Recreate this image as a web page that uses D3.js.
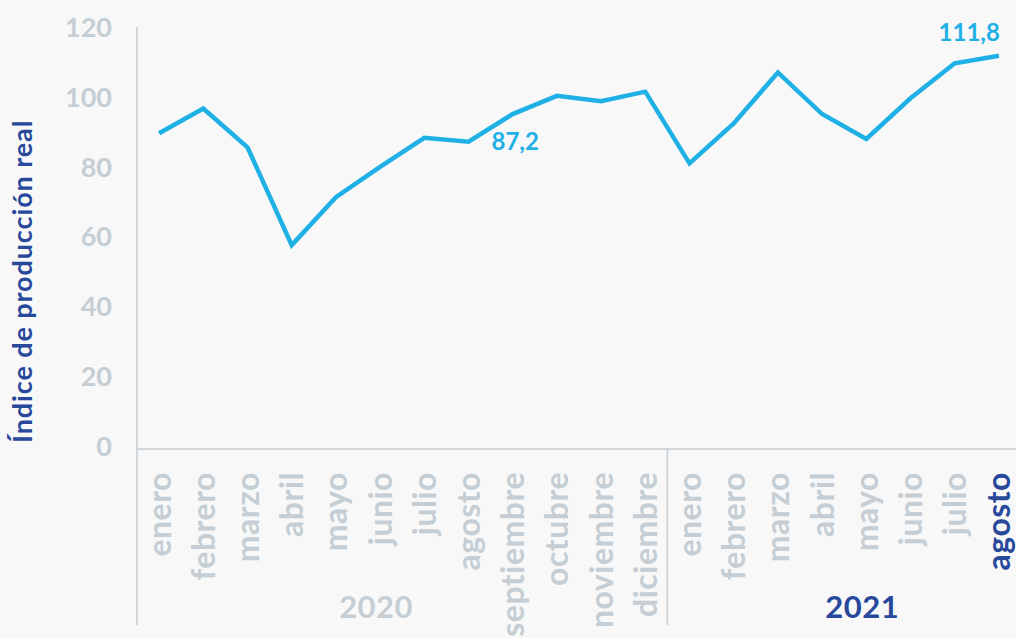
<!DOCTYPE html>
<html lang="es">
<head>
    <meta charset="UTF-8">
    <title>Índice de producción real</title>
    <script src="https://cdn.jsdelivr.net/npm/d3@7"></script>
    <style>
        body { margin: 0; background: #f8f8f8; }
        svg { display: block; background: #f8f8f8; font-family: Lato, "Open Sans", sans-serif; font-weight: 700; }
    </style>
</head>
<body>
    <div id="chart-space"></div>

    <script>
        // data
        var months = ["enero", "febrero", "marzo", "abril", "mayo", "junio", "julio", "agosto",
                      "septiembre", "octubre", "noviembre", "diciembre",
                      "enero", "febrero", "marzo", "abril", "mayo", "junio", "julio", "agosto"];
        var years = ["2020", "2021"];
        var values = [89.6, 96.7, 85.6, 57.6, 71.3, 80.0, 88.3, 87.2, 95.1, 100.3, 98.8, 101.5,
                      81.0, 92.4, 107.0, 95.1, 88.0, 99.6, 109.6, 111.8];
        var yTicks = [0, 20, 40, 60, 80, 100, 120];
        var callouts = [{ i: 7, text: "87,2" }, { i: 19, text: "111,8" }];

        var width = 1016;
        var height = 638;

        var grey = "#c4ced4";
        var lineBlue = "#1fb0e5";
        var darkBlue = "#28499b";

        var svg = d3.select("#chart-space")
            .append("svg")
            .attr("width", width)
            .attr("height", height);

        var xScale = d3.scaleBand()
            .domain(d3.range(months.length))
            .range([137, 1021]);

        var yScale = d3.scaleLinear()
            .domain([0, 120])
            .range([446.5, 27]);

        function cx(i) { return xScale(i) + xScale.bandwidth() / 2; }

        // axis lines
        svg.append("line")
            .attr("x1", 137).attr("x2", 137)
            .attr("y1", yScale(120)).attr("y2", 625)
            .attr("stroke", grey).attr("stroke-width", 1.5);

        svg.append("line")
            .attr("x1", 137).attr("x2", width)
            .attr("y1", yScale(0) + 2.5).attr("y2", yScale(0) + 2.5)
            .attr("stroke", grey).attr("stroke-width", 1.5);

        // year divider
        svg.append("line")
            .attr("x1", xScale(12)).attr("x2", xScale(12))
            .attr("y1", yScale(0) + 2.5).attr("y2", 625)
            .attr("stroke", grey).attr("stroke-width", 1.5);

        // y tick labels
        svg.selectAll(".ytick")
            .data(yTicks)
            .join("text")
            .attr("class", "ytick")
            .attr("x", 112)
            .attr("y", function(d) { return yScale(d); })
            .attr("dy", "0.36em")
            .attr("text-anchor", "end")
            .attr("fill", grey)
            .style("font-size", "27px")
            .text(function(d) { return d; });

        // y axis title
        svg.append("text")
            .attr("transform", "translate(22,443) rotate(-90)")
            .attr("dy", "0.36em")
            .attr("fill", darkBlue)
            .style("font-size", "27px")
            .style("letter-spacing", "0.9px")
            .text("Índice de producción real");

        // month labels
        svg.selectAll(".month")
            .data(months)
            .join("text")
            .attr("class", "month")
            .attr("transform", function(d, i) { return "translate(" + cx(i) + ",472) rotate(-90)"; })
            .attr("dy", "0.36em")
            .attr("text-anchor", "end")
            .attr("fill", function(d, i) { return i === months.length - 1 ? darkBlue : grey; })
            .style("font-size", "32px")
            .style("letter-spacing", "0.5px")
            .text(function(d) { return d; });

        // year labels
        svg.selectAll(".year")
            .data(years)
            .join("text")
            .attr("class", "year")
            .attr("x", function(d, i) { return cx(i === 0 ? 5 : 16) - 4; })
            .attr("y", 618)
            .attr("text-anchor", "middle")
            .attr("fill", function(d, i) { return i === 1 ? darkBlue : grey; })
            .style("font-size", "31px")
            .style("letter-spacing", "0.5px")
            .text(function(d) { return d; });

        // the line
        var line = d3.line()
            .x(function(d, i) { return cx(i); })
            .y(function(d) { return yScale(d); });

        svg.append("path")
            .datum(values)
            .attr("d", line)
            .attr("fill", "none")
            .attr("stroke", lineBlue)
            .attr("stroke-width", 4.5)
            .attr("stroke-linejoin", "miter");

        // value callouts
        svg.selectAll(".callout")
            .data(callouts)
            .join("text")
            .attr("class", "callout")
            .attr("x", function(d, i) { return i === 0 ? cx(d.i) + 23 : cx(d.i) + 1; })
            .attr("y", function(d, i) { return i === 0 ? yScale(values[d.i]) + 8 : yScale(values[d.i]) - 15; })
            .attr("text-anchor", function(d, i) { return i === 0 ? "start" : "end"; })
            .attr("fill", lineBlue)
            .style("font-size", "24px")
            .text(function(d) { return d.text; });
    </script>
</body>
</html>
